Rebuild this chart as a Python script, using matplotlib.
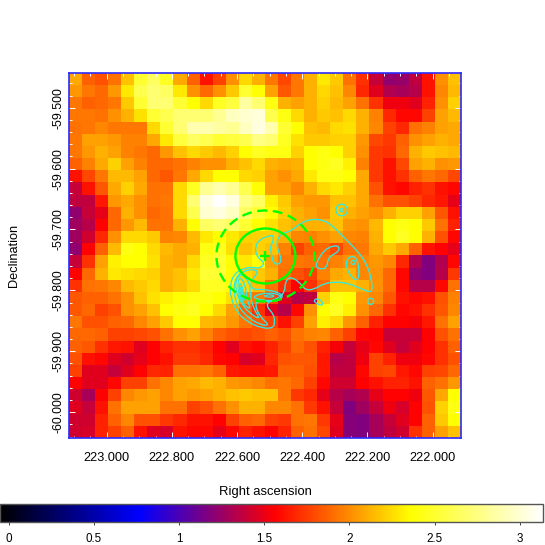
import numpy as np
import matplotlib
matplotlib.use("Agg")
import matplotlib.pyplot as plt
from matplotlib.colors import LinearSegmentedColormap
from matplotlib.patches import Ellipse, PathPatch
from matplotlib.path import Path
from matplotlib.ticker import MultipleLocator, FormatStrFormatter

plt.rcParams['font.family'] = ['Liberation Sans', 'DejaVu Sans']
plt.rcParams['axes.unicode_minus'] = False

# significance map, one list per row, top row first
flux = [
    [2.09,1.87,1.82,1.92,2.17,2.51,2.65,2.46,2.09,1.87,1.62,1.77,2.02,2.24,2.12,1.94,1.79,1.94,2.12,2.29,2.19,1.92,1.72,1.39,1.22,1.24,1.37,1.62,2.02,2.17],
    [2.04,1.94,1.89,2.04,2.29,2.60,2.70,2.65,2.29,2.02,1.89,2.02,2.19,2.51,2.36,2.07,1.84,1.94,2.12,2.24,2.17,1.99,1.69,1.47,1.32,1.29,1.34,1.62,1.99,2.14],
    [1.94,1.87,1.89,1.94,2.19,2.51,2.70,2.70,2.51,2.36,2.24,2.46,2.55,2.85,2.70,2.41,2.12,2.07,2.12,2.22,2.14,2.07,1.92,1.72,1.52,1.52,1.47,1.67,2.02,2.22],
    [1.94,1.94,1.92,2.02,2.12,2.27,2.51,2.60,2.70,2.70,2.70,2.80,2.94,2.99,3.02,2.60,2.41,2.24,2.12,2.19,2.17,2.24,2.12,1.97,1.69,1.59,1.59,1.77,2.07,2.14],
    [1.92,1.94,1.99,1.94,1.94,1.94,2.24,2.51,2.70,2.89,2.89,2.85,2.80,2.94,3.04,2.89,2.51,2.36,2.17,2.14,2.24,2.27,2.12,1.99,1.77,1.69,1.92,1.97,2.07,2.09],
    [1.94,2.07,2.07,2.04,1.97,1.97,2.09,2.29,2.55,2.65,2.60,2.51,2.55,2.60,2.75,2.70,2.46,2.27,2.19,2.19,2.22,2.22,2.04,1.79,1.74,1.87,2.02,2.07,2.12,2.09],
    [1.94,2.04,2.12,2.07,1.97,1.94,1.89,2.04,2.17,2.24,2.19,2.14,2.22,2.36,2.46,2.41,2.41,2.22,2.36,2.41,2.36,2.22,2.02,1.74,1.72,1.89,2.12,2.19,2.17,2.14],
    [1.87,1.97,2.09,2.22,2.07,1.97,1.89,1.89,1.92,1.97,2.02,2.02,2.12,2.17,2.24,2.12,2.09,2.12,2.36,2.41,2.46,2.32,1.97,1.74,1.62,1.79,2.07,2.12,2.02,2.04],
    [1.62,1.79,1.94,2.14,2.14,2.07,1.89,1.84,1.94,2.09,2.24,2.36,2.36,2.24,2.22,2.07,2.02,2.09,2.29,2.41,2.41,2.36,2.09,1.74,1.62,1.72,1.87,1.94,1.89,1.79],
    [1.39,1.62,1.84,2.09,2.22,2.09,1.92,1.92,2.24,2.46,2.80,2.89,2.80,2.60,2.36,2.07,2.07,1.99,2.12,2.24,2.29,2.22,2.09,1.82,1.62,1.59,1.67,1.72,1.62,1.59],
    [1.37,1.37,1.64,2.04,2.09,2.02,1.92,1.94,2.24,2.70,3.04,3.13,3.04,2.75,2.65,2.32,2.19,2.07,2.04,2.04,2.17,2.17,2.09,1.92,1.82,1.82,1.77,1.69,1.64,1.49],
    [1.22,1.39,1.49,1.89,2.12,2.02,1.89,1.92,2.24,2.60,2.99,3.04,2.94,2.65,2.51,2.36,2.22,2.12,2.07,2.02,2.19,2.12,2.07,2.02,2.12,2.22,2.22,2.07,1.84,1.62],
    [1.27,1.34,1.57,1.89,2.04,2.14,1.92,1.92,2.12,2.36,2.65,2.70,2.65,2.51,2.36,2.27,2.17,2.12,2.12,2.12,2.17,2.04,2.02,2.14,2.36,2.41,2.36,2.19,1.92,1.67],
    [1.27,1.42,1.69,2.02,2.24,2.24,2.19,1.97,1.99,2.14,2.29,2.36,2.29,2.22,2.22,2.22,2.12,1.99,1.97,2.02,2.07,1.99,1.97,2.12,2.36,2.46,2.36,2.12,1.82,1.59],
    [1.22,1.57,1.87,2.14,2.41,2.36,2.24,2.14,2.09,2.12,2.41,2.46,2.27,2.17,2.22,2.17,1.97,1.77,1.87,1.89,1.79,1.92,1.94,2.09,2.19,2.09,1.87,1.62,1.57,1.49],
    [1.39,1.72,2.07,2.32,2.36,2.36,2.27,2.12,2.09,2.24,2.46,2.51,2.36,2.29,2.36,2.07,1.94,1.94,1.92,1.92,1.97,2.02,1.99,2.04,1.99,1.69,1.32,1.17,1.32,1.59],
    [1.57,1.89,2.12,2.29,2.27,2.24,2.22,2.12,2.17,2.29,2.51,2.51,2.36,2.24,2.19,2.12,1.92,1.82,1.77,1.97,2.09,2.12,1.99,2.02,1.89,1.59,1.22,1.17,1.34,1.74],
    [1.72,1.92,1.94,1.99,2.14,2.19,2.24,2.12,2.17,2.24,2.46,2.46,2.36,2.24,2.17,1.92,1.72,1.57,1.72,1.89,2.17,2.17,2.12,2.02,1.89,1.59,1.34,1.34,1.59,1.92],
    [1.84,1.87,1.87,1.92,2.02,2.17,2.27,2.32,2.36,2.41,2.41,2.36,2.27,2.02,1.94,1.77,1.47,1.34,1.37,2.22,2.41,2.36,2.04,1.99,1.84,1.62,1.59,1.62,1.82,1.97],
    [1.84,1.89,1.77,1.82,2.02,2.07,2.17,2.36,2.41,2.46,2.36,2.24,2.07,1.87,1.72,1.47,1.34,1.59,2.02,2.36,2.46,2.32,2.02,1.89,1.72,1.59,1.62,1.72,1.84,1.99],
    [1.94,1.82,1.82,1.87,1.89,1.99,2.07,2.19,2.36,2.36,2.14,2.12,2.04,1.94,1.84,1.77,1.62,1.77,2.07,2.32,2.24,2.04,1.87,1.67,1.57,1.57,1.54,1.64,1.92,2.07],
    [1.89,1.89,1.87,1.77,1.77,1.79,1.82,1.92,2.02,2.07,1.97,1.87,1.82,1.79,1.82,1.87,1.82,1.92,1.97,1.99,1.87,1.77,1.59,1.57,1.39,1.39,1.39,1.57,1.82,1.92],
    [1.87,1.84,1.72,1.64,1.62,1.47,1.57,1.67,1.72,1.72,1.67,1.57,1.47,1.62,1.59,1.67,1.77,1.89,1.82,1.67,1.54,1.39,1.49,1.59,1.47,1.39,1.47,1.57,1.72,1.87],
    [1.82,1.62,1.59,1.47,1.42,1.49,1.57,1.62,1.74,1.74,1.69,1.59,1.57,1.44,1.47,1.69,1.82,1.84,1.84,1.64,1.34,1.37,1.52,1.77,1.67,1.52,1.52,1.59,1.72,1.82],
    [1.77,1.47,1.47,1.39,1.47,1.57,1.69,1.67,1.92,1.92,1.94,1.87,1.64,1.62,1.62,1.64,1.87,1.87,1.82,1.64,1.37,1.37,1.59,1.77,1.79,1.64,1.59,1.77,1.79,1.89],
    [1.57,1.47,1.47,1.59,1.77,1.77,1.92,1.99,2.07,2.09,2.14,2.12,2.04,2.02,1.99,1.92,1.94,1.89,1.77,1.59,1.42,1.42,1.57,1.62,1.67,1.67,1.62,1.87,1.92,2.04],
    [1.42,1.29,1.57,1.77,1.99,2.04,2.07,1.99,2.07,2.04,2.07,2.12,2.17,2.19,2.17,2.17,1.94,1.74,1.69,1.49,1.34,1.29,1.32,1.49,1.57,1.57,1.52,1.84,2.09,2.36],
    [1.47,1.39,1.62,1.92,2.07,2.07,2.07,1.92,1.92,1.77,1.82,1.92,2.02,2.12,2.12,1.99,1.99,1.92,1.74,1.62,1.39,1.17,1.27,1.39,1.52,1.44,1.57,1.82,2.22,2.41],
    [1.42,1.42,1.67,1.87,1.99,1.82,1.82,1.74,1.69,1.62,1.62,1.57,1.77,1.87,1.89,1.77,1.74,1.92,1.94,1.74,1.49,1.19,1.17,1.29,1.39,1.47,1.57,1.87,2.19,2.36],
    [1.42,1.44,1.67,1.77,1.87,1.62,1.47,1.44,1.62,1.59,1.59,1.49,1.59,1.67,1.62,1.57,1.67,1.87,1.92,1.79,1.47,1.19,1.17,1.29,1.37,1.42,1.72,1.87,2.07,2.17],
]

ra_range = (223.1156, 221.913)
dec_range = (-60.0424, -59.443)
vmin, vmax = -0.05, 3.135

# radio contours, (ra, dec) vertices
contour_outer = [
    (222.489,-59.709),(222.489,-59.720),(222.499,-59.728),(222.494,-59.742),(222.489,-59.755),
    (222.473,-59.758),(222.463,-59.750),(222.473,-59.736),(222.479,-59.723),(222.473,-59.712),
    (222.458,-59.706),(222.433,-59.702),(222.407,-59.690),(222.376,-59.683),(222.335,-59.684),
    (222.305,-59.695),(222.274,-59.712),(222.233,-59.734),(222.203,-59.755),(222.187,-59.783),
    (222.185,-59.804),(222.213,-59.799),(222.259,-59.788),(222.300,-59.786),(222.335,-59.789),
    (222.366,-59.799),(222.392,-59.799),(222.409,-59.786),(222.438,-59.777),(222.453,-59.787),
    (222.453,-59.802),(222.473,-59.813),(222.504,-59.818),(222.509,-59.827),(222.489,-59.838),
    (222.484,-59.851),(222.489,-59.862),(222.525,-59.862),(222.571,-59.851),(222.601,-59.835),
    (222.619,-59.813),(222.622,-59.791),(222.608,-59.772),(222.576,-59.763),(222.550,-59.762),
    (222.530,-59.764),(222.514,-59.755),(222.540,-59.745),(222.545,-59.728),(222.530,-59.716),
    (222.504,-59.711),
]
contour_second = [
    (222.547,-59.765),(222.535,-59.770),(222.550,-59.780),(222.560,-59.791),(222.550,-59.799),
    (222.514,-59.798),(222.463,-59.805),(222.461,-59.813),(222.484,-59.819),(222.535,-59.817),
    (222.545,-59.824),(222.530,-59.843),(222.499,-59.858),(222.530,-59.856),(222.565,-59.845),
    (222.596,-59.827),(222.611,-59.805),(222.606,-59.780),(222.581,-59.768),
]
contour_lobe = [(222.550,-59.809),(222.504,-59.803),(222.463,-59.808),(222.468,-59.816),(222.509,-59.817),(222.543,-59.814)]
contour_lobe_in = [(222.516,-59.808),(222.489,-59.807),(222.486,-59.811),(222.514,-59.811)]
contour_nest1 = [(222.586,-59.772),(222.560,-59.788),(222.560,-59.808),(222.550,-59.829),(222.527,-59.849),(222.565,-59.836),(222.591,-59.818),(222.606,-59.797),(222.601,-59.780)]
contour_nest2 = [(222.591,-59.777),(222.574,-59.791),(222.571,-59.813),(222.557,-59.832),(222.581,-59.823),(222.596,-59.805),(222.598,-59.788)]
contour_nest3 = [(222.591,-59.786),(222.581,-59.799),(222.576,-59.818),(222.588,-59.812),(222.594,-59.797)]
contour_nest4 = [(222.589,-59.791),(222.584,-59.802),(222.581,-59.816),(222.589,-59.806)]
contour_nest5 = [(222.596,-59.805),(222.586,-59.810),(222.584,-59.820),(222.594,-59.816)]
contour_blob1 = [(222.361,-59.758),(222.330,-59.731),(222.289,-59.725),(222.286,-59.736),(222.320,-59.745),(222.325,-59.764),(222.351,-59.765)]
contour_blob2 = [(222.269,-59.753),(222.249,-59.742),(222.228,-59.750),(222.225,-59.786),(222.254,-59.777)]
contour_blob3 = [(222.366,-59.816),(222.351,-59.813),(222.335,-59.821),(222.341,-59.825),(222.356,-59.822)]
contours = [contour_outer, contour_second, contour_lobe, contour_lobe_in, contour_nest1, contour_nest2,
            contour_nest3, contour_nest4, contour_nest5, contour_blob1, contour_blob2, contour_blob3]

# small round contours: ra, dec, width, height
contour_rings = [(222.279,-59.668,0.035,0.019),(222.279,-59.668,0.010,0.0056),
                 (222.244,-59.754,0.012,0.0066),(222.190,-59.818,0.018,0.010)]

source_ra, source_dec = 222.513, -59.7435
inner_size = (0.184, 0.0903)
outer_size = (0.3006, 0.1494)

cbar_ticks = [0, 0.5, 1, 1.5, 2, 2.5, 3]
cbar_labels = ['0', '0.5', '1', '1.5', '2', '2.5', '3']

def node(v):
    return (v - vmin) / (vmax - vmin)

cmap = LinearSegmentedColormap.from_list("bb", [
    (0.0, '#000000'), (node(0.77), '#0000ff'), (node(1.565), '#ff0000'),
    (node(2.36), '#ffff00'), (1.0, '#ffffff')], N=512)

def smooth_path(pts):
    # closed quadratic curve through the midpoints of the traced vertices
    p = np.array(pts)
    mids = (p + np.roll(p, -1, axis=0)) / 2
    verts = [mids[-1]]
    codes = [Path.MOVETO]
    for i in range(len(p)):
        verts += [p[i], mids[i]]
        codes += [Path.CURVE3, Path.CURVE3]
    return Path(verts, codes)

fig = plt.figure(figsize=(5.45, 5.45), dpi=100)
ax = fig.add_axes([69/545, (545-438)/545, 392/545, 365/545])

im = ax.imshow(np.array(flux), cmap=cmap, vmin=vmin, vmax=vmax, aspect='auto', origin='upper',
               interpolation='nearest', extent=(ra_range[0], ra_range[1], dec_range[0], dec_range[1]))

c_cyan = '#33e8e0'
for c in contours:
    ax.add_patch(PathPatch(smooth_path(c), fc='none', ec=c_cyan, lw=0.95))
for r in contour_rings:
    ax.add_patch(Ellipse((r[0], r[1]), r[2], r[3], fc='none', ec=c_cyan, lw=0.95))

ax.add_patch(Ellipse((source_ra, source_dec), inner_size[0], inner_size[1], fc='none', ec='#00ff00', lw=1.7))
ax.add_patch(Ellipse((source_ra, source_dec), outer_size[0], outer_size[1], fc='none', ec='#00ff00', lw=1.7,
                     ls=(0, (4.2, 2.4))))
ax.plot([source_ra], [source_dec], marker='+', color='#00ff00', ms=7.5, mew=1.7, ls='none')

ax.set_xlim(ra_range)
ax.set_ylim(dec_range)
ax.xaxis.set_major_locator(MultipleLocator(0.2))
ax.xaxis.set_minor_locator(MultipleLocator(0.05))
ax.yaxis.set_major_locator(MultipleLocator(0.1))
ax.yaxis.set_minor_locator(MultipleLocator(0.02))
ax.xaxis.set_major_formatter(FormatStrFormatter('%.3f'))
ax.yaxis.set_major_formatter(FormatStrFormatter('%.3f'))
ax.tick_params(which='both', direction='in', color='white', top=True, right=True, width=0.7)
ax.tick_params(which='major', length=4)
ax.tick_params(which='minor', length=1.8)
ax.tick_params(axis='x', which='major', labelsize=9.2, pad=10)
ax.tick_params(axis='y', which='major', labelsize=8.9, pad=3.5)
for lab in ax.get_yticklabels():
    lab.set_rotation(90)
    lab.set_va('center')
for s in ax.spines.values():
    s.set_color('#2a2aff')
    s.set_linewidth(1.2)

fig.text(14/545, 1-255/545, 'Declination', rotation=90, ha='center', va='center', fontsize=9.2)
fig.text(265/545, 1-492/545, 'Right ascension', ha='center', va='center', fontsize=9.4)

cax = fig.add_axes([0, (545-522)/545, 543/545, 18/545])
cb = fig.colorbar(im, cax=cax, orientation='horizontal')
cb.set_ticks(cbar_ticks)
cb.set_ticklabels(cbar_labels)
cb.minorticks_off()
cax.tick_params(length=2, width=0.7, color='#444444', labelsize=8.4, pad=6)
cb.outline.set_edgecolor('#555555')
cb.outline.set_linewidth(1.0)

fig.savefig("out.png", dpi=100)
